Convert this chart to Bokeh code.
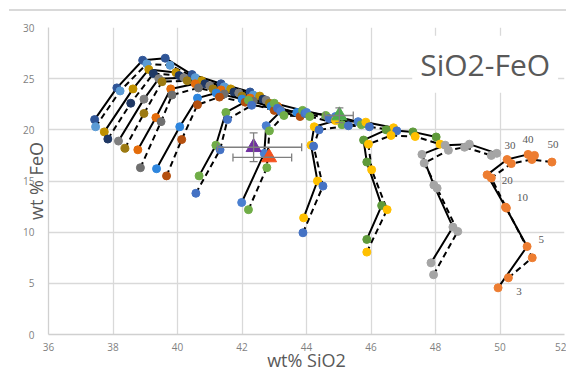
from bokeh.plotting import figure
from bokeh.models import Label, ColumnDataSource, Whisker, TeeHead, FixedTicker, Range1d
from bokeh.embed import file_html
from bokeh.resources import INLINE

# ---------------- data ----------------
x_ticks = [36, 38, 40, 42, 44, 46, 48, 50, 52]
y_ticks = [0, 5, 10, 15, 20, 25, 30]

# curve pairs: solid (s) and dashed (d), pressures 3,5,10,20,30,40,50
A_s_x = [37.43, 38.12, 38.92, 39.62, 40.45, 41.35, 42.25]
A_s_y = [21.0, 24.1, 26.8, 27.0, 25.4, 24.5, 23.7]
A_d_x = [37.46, 38.22, 39.05, 39.77, 40.55, 41.45, 42.35]
A_d_y = [20.3, 23.8, 26.45, 26.3, 25.1, 24.2, 23.4]

B_s_x = [37.73, 38.62, 39.11, 39.95, 40.75, 41.65, 42.55]
B_s_y = [19.8, 24.0, 25.9, 25.6, 24.8, 24.0, 23.3]
B_d_x = [37.84, 38.55, 39.25, 40.05, 40.85, 41.75, 42.65]
B_d_y = [19.1, 22.6, 25.5, 25.3, 24.5, 23.7, 23.0]

C_s_x = [38.17, 38.96, 39.42, 40.2, 41.0, 41.9, 42.75]
C_s_y = [18.9, 23.0, 25.0, 25.1, 24.3, 23.6, 22.9]
C_d_x = [38.37, 38.96, 39.52, 40.3, 41.1, 42.0, 42.85]
C_d_y = [18.2, 21.6, 24.7, 24.8, 24.0, 23.3, 22.6]

D_s_x = [38.77, 39.33, 39.79, 40.55, 41.35, 42.25, 43.1]
D_s_y = [18.05, 21.2, 24.0, 24.5, 23.9, 23.1, 22.3]
D_d_x = [38.85, 39.49, 39.83, 40.65, 41.45, 42.35, 43.2]
D_d_y = [16.3, 20.8, 23.4, 24.1, 23.5, 22.8, 21.9]

E_s_x = [39.35, 40.07, 40.62, 41.2, 42.0, 42.9, 43.7]
E_s_y = [16.2, 20.3, 23.1, 23.6, 23.0, 22.3, 21.7]
E_d_x = [39.66, 40.13, 40.62, 41.3, 42.1, 43.0, 43.8]
E_d_y = [15.5, 19.05, 22.45, 23.2, 22.7, 21.9, 21.3]

F_s_x = [40.67, 41.19, 41.5, 42.2, 43.0, 43.88, 44.6]
F_s_y = [15.5, 18.5, 21.7, 22.9, 22.6, 21.9, 21.4]
F_d_x = [40.57, 41.32, 41.55, 42.3, 43.1, 43.95, 44.7]
F_d_y = [13.8, 18.05, 21.0, 22.4, 22.1, 21.6, 21.1]

G_s_x = [41.99, 42.69, 42.75, 43.2, 44.0, 44.9, 45.6]
G_s_y = [12.9, 17.7, 20.4, 21.8, 21.7, 21.3, 20.8]
G_d_x = [42.2, 42.77, 42.85, 43.3, 44.1, 45.1, 45.7]
G_d_y = [12.2, 16.3, 19.9, 21.4, 21.3, 20.5, 20.5]

H_s_x = [43.91, 44.34, 44.14, 44.24, 44.9, 45.84, 46.7]
H_s_y = [11.4, 15.0, 18.5, 20.3, 20.9, 20.75, 20.2]
H_d_x = [43.89, 44.51, 44.22, 44.39, 45.3, 45.95, 46.8]
H_d_y = [9.94, 14.5, 18.4, 20.0, 20.4, 20.3, 19.9]

I_s_x = [45.87, 46.33, 45.87, 45.77, 46.47, 47.3, 48.02]
I_s_y = [9.29, 12.6, 16.85, 19.0, 20.0, 19.8, 19.3]
I_d_x = [45.87, 46.5, 46.02, 45.92, 46.62, 47.37, 48.14]
I_d_y = [8.05, 12.2, 16.1, 18.6, 19.45, 19.35, 18.6]

J_s_x = [47.86, 48.54, 47.95, 47.58, 48.3, 49.05, 49.9]
J_s_y = [7.0, 10.5, 14.6, 17.6, 18.5, 18.6, 17.7]
J_d_x = [47.94, 48.69, 48.05, 47.65, 48.4, 48.9, 49.73]
J_d_y = [5.84, 10.07, 14.3, 16.75, 18.0, 18.3, 17.5]

K_s_x = [49.94, 50.84, 50.17, 49.6, 50.22, 50.87, 51.07]
K_s_y = [4.56, 8.6, 12.45, 15.6, 17.1, 17.6, 17.5]
K_d_x = [50.26, 51.0, 50.2, 49.73, 50.35, 50.99, 51.61]
K_d_y = [5.54, 7.5, 12.35, 15.3, 16.7, 17.1, 16.85]

pressures = ["3", "5", "10", "20", "30", "40", "50"]

# reference points with error bars
ref_x = [42.36, 42.84, 45.02]
ref_y = [18.3, 17.3, 21.4]
ref_x_lo = [41.24, 41.72, 44.55]
ref_x_hi = [43.85, 43.54, 45.45]
ref_y_lo = [16.9, 17.3, 20.7]
ref_y_hi = [19.7, 17.3, 22.15]
ref_colors = ["#7030a0", "#f4511e", "#4cae4c"]

# ---------------- figure ----------------
p = figure(width=566, height=374, output_backend="svg", toolbar_location=None,
           x_range=Range1d(36, 52), y_range=Range1d(0, 30),
           min_border_left=48, min_border_right=2, min_border_top=27, min_border_bottom=40,
           background_fill_color="white", border_fill_color="white", border_fill_alpha=0,
           styles={"background-color": "white",
                   "background-image": "linear-gradient(#d9d9d9, #d9d9d9)",
                   "background-size": "100% 2px",
                   "background-position": "9px 9px",
                   "background-repeat": "no-repeat"})
p.outline_line_color = None

for ax, ticks in ((p.xaxis, x_ticks), (p.yaxis, y_ticks)):
    ax.ticker = FixedTicker(ticks=ticks)
    ax.major_tick_line_color = None
    ax.minor_tick_line_color = None
    ax.major_tick_out = 0
    ax.major_tick_in = 0
    ax.minor_tick_out = 0
    ax.minor_tick_in = 0
    ax.axis_line_color = "#d0d0d0"
    ax.axis_line_width = 1.3
    ax.major_label_text_font = "Open Sans"
    ax.major_label_text_font_size = "10px"
    ax.major_label_text_color = "#7f7f7f"
    ax.axis_label_text_font = "Open Sans"
    ax.axis_label_text_font_style = "normal"
    ax.axis_label_text_color = "#595959"
    ax.axis_label_text_font_size = "18px"
p.xaxis.major_label_standoff = 8
p.yaxis.major_label_standoff = 14
p.xaxis.axis_label = "wt% SiO2"
p.yaxis.axis_label = "wt % FeO"
p.xaxis.axis_label_standoff = -6
p.yaxis.axis_label_standoff = -28
p.xgrid.ticker = FixedTicker(ticks=x_ticks)
p.ygrid.ticker = FixedTicker(ticks=y_ticks)
p.grid.grid_line_color = "#d9d9d9"
p.grid.grid_line_width = 1.3

pairs = [
    (A_s_x, A_s_y, "#2f5597", A_d_x, A_d_y, "#5b9bd5"),
    (B_s_x, B_s_y, "#bf9000", B_d_x, B_d_y, "#1f3864"),
    (C_s_x, C_s_y, "#7f7f7f", C_d_x, C_d_y, "#9c7a12"),
    (D_s_x, D_s_y, "#e46c0a", D_d_x, D_d_y, "#6f6f6f"),
    (E_s_x, E_s_y, "#2e86de", E_d_x, E_d_y, "#b5500f"),
    (F_s_x, F_s_y, "#70ad47", F_d_x, F_d_y, "#4472c4"),
    (G_s_x, G_s_y, "#4a7fd0", G_d_x, G_d_y, "#70ad47"),
    (H_s_x, H_s_y, "#ffc000", H_d_x, H_d_y, "#4472c4"),
    (I_s_x, I_s_y, "#5e9a3a", I_d_x, I_d_y, "#ffc000"),
    (J_s_x, J_s_y, "#a5a5a5", J_d_x, J_d_y, "#a5a5a5"),
    (K_s_x, K_s_y, "#ed7d31", K_d_x, K_d_y, "#ed7d31"),
]

for sx, sy, sc, dx, dy, dc in pairs:
    p.line(sx, sy, line_color="black", line_width=2)
    p.line(dx, dy, line_color="black", line_width=2, line_dash="6 4")
for sx, sy, sc, dx, dy, dc in pairs:
    p.scatter(sx, sy, size=8, fill_color=sc, line_color=sc)
    p.scatter(dx, dy, size=8, fill_color=dc, line_color=dc)

# error bars and reference triangles
src = ColumnDataSource(dict(x=ref_x, y=ref_y, xl=ref_x_lo, xu=ref_x_hi,
                            yl=ref_y_lo, yu=ref_y_hi, c=ref_colors))
for dim, base, lo, hi in (("width", "y", "xl", "xu"), ("height", "x", "yl", "yu")):
    w = Whisker(source=src, base=base, lower=lo, upper=hi, dimension=dim,
                line_color="#7f7f7f", line_width=1.3, level="glyph",
                lower_head=TeeHead(size=8, line_color="#7f7f7f", line_width=1.3),
                upper_head=TeeHead(size=8, line_color="#7f7f7f", line_width=1.3))
    p.add_layout(w)
p.scatter("x", "y", source=src, marker="triangle", size=15, fill_color="c", line_color="c")

# pressure labels on the rightmost curve
lab_src = ColumnDataSource(dict(
    x=[K_s_x[0], K_d_x[1], K_s_x[2], K_d_x[3], K_s_x[4], K_s_x[5], K_d_x[6]],
    y=[K_s_y[0], K_d_y[1], K_s_y[2], K_d_y[3], K_s_y[4], K_s_y[5], K_d_y[6]],
    t=pressures,
    xo=[21, 9, 17, 16, 3, 0, 1],
    yo=[4, -18, -10, 3, -14, -15, -18],
))
p.text("x", "y", text="t", source=lab_src, x_offset="xo", y_offset="yo",
       text_font_size="11px", text_color="#595959", text_align="center",
       text_baseline="middle", text_font="Open Sans")

# title box inside the plot
p.add_layout(Label(x=49.54, y=26.4, text="SiO2-FeO", text_font="Open Sans",
                   text_font_size="30px", text_color="#595959", text_align="center",
                   text_baseline="middle", background_fill_color="white", padding=8))

open("out.html", "w").write(file_html(p, INLINE))
